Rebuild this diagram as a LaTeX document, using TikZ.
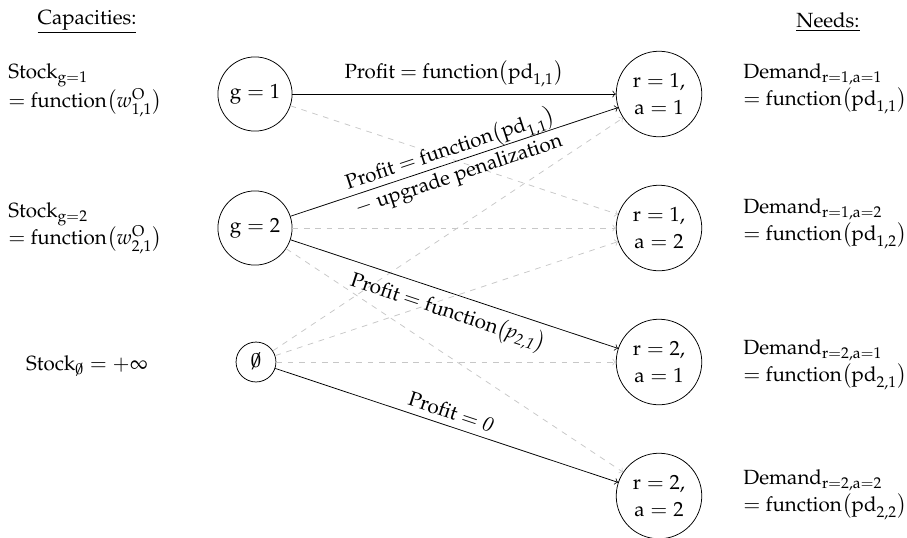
\documentclass[tikz,border=0pt]{standalone}
\usepackage[T1]{fontenc}
\usepackage{mathpazo}
\newcommand{\vr}[1]{\mathrm{#1}}
\newcommand{\myempty}{\mathpalette\myemptyaux\relax}
\newcommand{\myemptyaux}[2]{\ooalign{$#1 0$\cr\hidewidth$#1/$\hidewidth\cr}}
\begin{document}
\begin{tikzpicture}[x=0.526pt,y=-0.526pt,
  every node/.style={font=\fontsize{10.8pt}{14pt}\selectfont},
  gnode/.style={circle,draw,inner sep=0pt,minimum size=39pt},
  enode/.style={circle,draw,inner sep=0pt,minimum size=21pt},
  rnode/.style={circle,draw,inner sep=0pt,minimum size=45pt,align=center},
  solidedge/.style={->,black},
  grayedge/.style={->,dashed,black!22},
  lbl/.style={align=left,anchor=west,inner sep=0pt}]
\useasboundingbox (0,0) rectangle (907,537);
% headings
\node (cap) at (87,22) {\underline{Capacities:}};
\node (need) at (828,22) {\underline{Needs:}};
% left nodes
\node[gnode] (g1) at (255,94) {$\vr{g}=1$};
\node[gnode] (g2) at (255,228) {$\vr{g}=2$};
\node[enode] (g0) at (256,362) {$\myempty$};
% right nodes
\node[rnode] (r11) at (659,94) {$\vr{r}=1,$\\$\vr{a}=1$};
\node[rnode] (r12) at (659,228) {$\vr{r}=1,$\\$\vr{a}=2$};
\node[rnode] (r21) at (659,362) {$\vr{r}=2,$\\$\vr{a}=1$};
\node[rnode] (r22) at (659,496) {$\vr{r}=2,$\\$\vr{a}=2$};
% left texts
\node[lbl] (s1) at (8,90) {Stock$_{\vr{g}=1}$\\$=$ function$\bigl(w^{\vr{O}}_{1,1}\bigr)$};
\node[lbl] (s2) at (8,228) {Stock$_{\vr{g}=2}$\\$=$ function$\bigl(w^{\vr{O}}_{2,1}\bigr)$};
\node (s0) at (87,366) {Stock$_{\myempty}=+\infty$};
% right texts
\node[lbl] (d11) at (743,89) {Demand$_{\vr{r}=1,\vr{a}=1}$\\$=$ function$\bigl(\vr{pd}_{1,1}\bigr)$};
\node[lbl] (d12) at (743,224) {Demand$_{\vr{r}=1,\vr{a}=2}$\\$=$ function$\bigl(\vr{pd}_{1,2}\bigr)$};
\node[lbl] (d21) at (743,365) {Demand$_{\vr{r}=2,\vr{a}=1}$\\$=$ function$\bigl(\vr{pd}_{2,1}\bigr)$};
\node[lbl] (d22) at (743,495) {Demand$_{\vr{r}=2,\vr{a}=2}$\\$=$ function$\bigl(\vr{pd}_{2,2}\bigr)$};
% gray dashed edges
\draw[grayedge] (g1) -- (r12);
\draw[grayedge] (g2) -- (r12);
\draw[grayedge] (g2) -- (r22);
\draw[grayedge] (g0) -- (r11);
\draw[grayedge] (g0) -- (r12);
\draw[grayedge] (g0) -- (r21);
% solid edges
\draw[solidedge] (g1) -- node[above] {Profit $=$ function$\bigl(\vr{pd}_{1,1}\bigr)$} (r11);
\draw[solidedge] (g2) -- node[sloped,align=center] {Profit $=$ function$\bigl(\vr{pd}_{1,1}\bigr)$\\$-$ upgrade penalization} (r11);
\draw[solidedge] (g2) -- node[sloped,below] {Profit $=$ function$\bigl(\textit{p\textsubscript{2,1}}\bigr)$} (r21);
\draw[solidedge] (g0) -- node[sloped,above] {Profit $=$ \textit{0}} (r22);
\end{tikzpicture}
\end{document}
